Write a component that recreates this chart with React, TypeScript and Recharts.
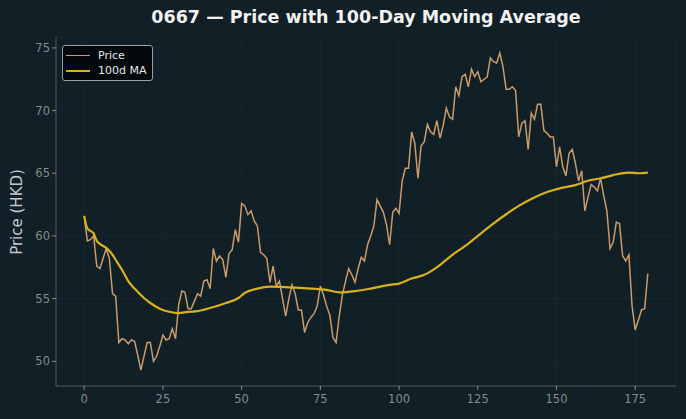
import { LineChart, Line, XAxis, YAxis, CartesianGrid } from 'recharts'

// daily closing prices, day 0..179
const PRICE = [
  61.6, 59.6, 59.7, 60.0, 57.6, 57.4, 58.2, 59.0, 58.2, 55.4,
  55.2, 51.5, 51.8, 51.7, 51.4, 51.7, 51.6, 50.5, 49.3, 50.4,
  51.5, 51.5, 50.0, 50.4, 51.2, 52.1, 51.7, 51.8, 52.6, 51.8,
  54.5, 55.6, 55.5, 54.2, 54.2, 54.8, 55.4, 55.2, 56.4, 56.5,
  55.8, 59.0, 58.0, 58.4, 58.1, 56.7, 58.6, 58.9, 60.5, 59.5,
  62.6, 62.4, 61.7, 62.0, 61.2, 60.8, 58.7, 58.5, 58.2, 56.3,
  57.6, 56.0, 56.4, 55.0, 53.6, 55.0, 56.1, 55.4, 54.1, 54.1,
  52.3, 53.1, 53.5, 53.8, 54.4, 56.0, 55.3, 54.4, 53.7, 51.9,
  51.5, 53.6, 55.3, 56.4, 57.4, 56.9, 56.3, 57.4, 58.3, 58.0,
  59.3, 60.0, 60.8, 62.9, 62.4, 61.9, 60.9, 59.3, 61.9, 62.2,
  61.8, 64.4, 65.4, 65.4, 68.3, 67.4, 64.6, 67.2, 67.5, 68.9,
  68.3, 68.1, 69.2, 67.8, 68.8, 70.2, 69.5, 69.3, 71.9, 71.2,
  72.7, 72.9, 71.9, 73.3, 72.7, 73.1, 72.3, 72.5, 72.7, 74.2,
  73.9, 73.8, 74.6, 73.5, 71.7, 71.7, 71.9, 71.6, 67.9, 69.0,
  69.2, 66.9, 69.8, 69.3, 70.5, 70.5, 68.4, 68.2, 67.9, 67.9,
  65.5, 67.1, 65.5, 64.8, 66.6, 66.9, 65.8, 64.4, 65.2, 62.0,
  63.1, 64.1, 63.9, 63.6, 64.6, 63.2, 62.0, 59.0, 59.5, 61.1,
  61.0, 58.4, 58.0, 58.5, 54.4, 52.5, 53.3, 54.1, 54.2, 57.0,
]

// 100-day moving average, sampled on these days
const MA_DAYS = [
  0, 1, 3, 4, 6, 7, 9, 10, 12, 14, 16, 19, 21, 24, 27, 30, 33, 36, 40, 45,
  49, 51, 55, 59, 65, 72, 77, 81, 86, 91, 97, 100, 104, 108, 112, 117, 121, 125, 129, 133,
  138, 142, 147, 151, 156, 160, 164, 168, 173, 176, 179,
]
const MA_VALUES = [
  61.6, 60.6, 60.2, 59.6, 59.2, 59.05, 58.5, 58.1, 57.3, 56.4, 55.8, 55.05, 54.65, 54.2, 53.95, 53.85, 53.95, 54.0, 54.25, 54.65,
  55.05, 55.45, 55.8, 55.95, 55.9, 55.8, 55.7, 55.5, 55.6, 55.8, 56.1, 56.2, 56.6, 56.9, 57.5, 58.5, 59.2, 60.0, 60.8, 61.55,
  62.4, 62.95, 63.5, 63.8, 64.05, 64.4, 64.6, 64.85, 65.05, 65.0, 65.05,
]

const X_TICKS = [0, 25, 50, 75, 100, 125, 150, 175]
const Y_TICKS = [50, 55, 60, 65, 70, 75]

const BG = '#111f26'
const PRICE_COLOR = '#c99b6b'
const MA_COLOR = '#d8b11c'
const TICK_COLOR = '#858b8f'
const AXIS_COLOR = '#50585c'
const FONT = '"DejaVu Sans", sans-serif'

const data = PRICE.map((p, i) => {
  const k = MA_DAYS.indexOf(i)
  return { day: i, price: p, ma: k >= 0 ? MA_VALUES[k] : null }
})

function LegendBox() {
  const row = (color: string, width: number, label: string) => (
    <div style={{ display: 'flex', alignItems: 'center', height: 15 }}>
      <span style={{ display: 'inline-block', width: 24, height: width, background: color, marginRight: 8 }} />
      <span>{label}</span>
    </div>
  )
  return (
    <div
      style={{
        position: 'absolute',
        left: 62,
        top: 45,
        boxSizing: 'border-box',
        background: '#03080a',
        border: '1px solid #9a9fa2',
        borderRadius: 3,
        padding: '2px 5px 2px 3px',
        color: '#e6e6e6',
        fontSize: 11,
        lineHeight: '15px',
        whiteSpace: 'nowrap',
        zIndex: 2,
      }}
    >
      {row(PRICE_COLOR, 1.5, 'Price')}
      {row(MA_COLOR, 2, '100d MA')}
    </div>
  )
}

export default function App() {
  return (
    <div style={{ position: 'absolute', left: 0, top: 0, width: 686, height: 419, background: BG, fontFamily: FONT }}>
      <div
        style={{
          position: 'absolute',
          left: 56,
          width: 620,
          top: 7,
          textAlign: 'center',
          color: '#f2f2f2',
          fontWeight: 'bold',
          fontSize: 17.5,
        }}
      >
        0667 — Price with 100-Day Moving Average
      </div>
      <LegendBox />
      <LineChart width={686} height={419} data={data} margin={{ top: 37, right: 10, bottom: 0, left: 0 }}>
        <CartesianGrid stroke="#1a2a31" strokeWidth={0.8} />
        <XAxis
          dataKey="day"
          type="number"
          domain={[-8.95, 187.95]}
          ticks={X_TICKS}
          height={33}
          tick={{ fill: TICK_COLOR, fontSize: 11.5, dy: 3 }}
          tickSize={4}
          tickLine={{ stroke: TICK_COLOR }}
          axisLine={{ stroke: AXIS_COLOR }}
        />
        <YAxis
          type="number"
          domain={[48.03, 75.87]}
          ticks={Y_TICKS}
          width={56}
          tick={{ fill: TICK_COLOR, fontSize: 11.5 }}
          tickSize={4}
          tickLine={{ stroke: TICK_COLOR }}
          axisLine={{ stroke: AXIS_COLOR }}
          label={{
            content: () => (
              <text
                x={17}
                y={212}
                transform="rotate(-90 17 212)"
                textAnchor="middle"
                dominantBaseline="central"
                fill="#c3c7ca"
                fontSize={15}
              >
                Price (HKD)
              </text>
            ),
          }}
        />
        <Line
          type="linear"
          dataKey="price"
          stroke={PRICE_COLOR}
          strokeWidth={1.5}
          dot={false}
          isAnimationActive={false}
        />
        <Line
          type="monotone"
          dataKey="ma"
          stroke={MA_COLOR}
          strokeWidth={2.2}
          dot={false}
          connectNulls
          isAnimationActive={false}
        />
      </LineChart>
    </div>
  )
}
